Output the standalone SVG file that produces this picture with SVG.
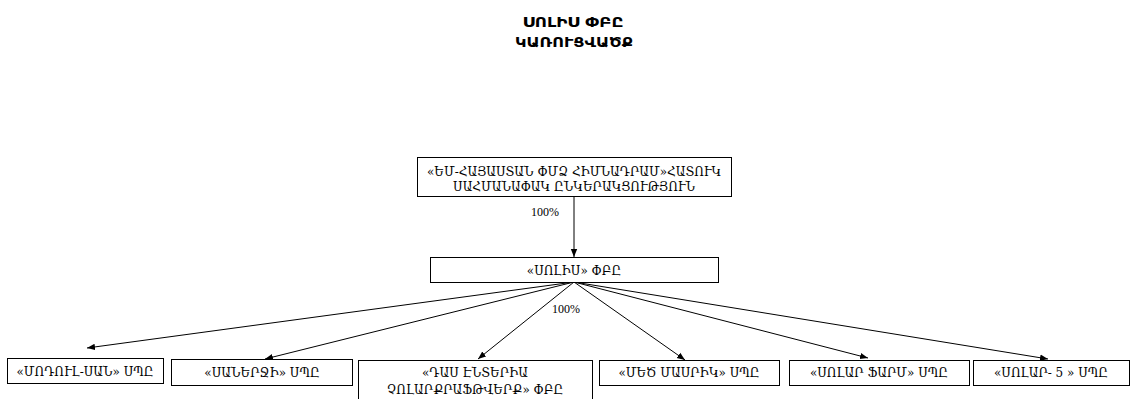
<svg xmlns="http://www.w3.org/2000/svg" width="1131" height="399" viewBox="0 0 1131 399">
<style>
.box{fill:#fff;stroke:#000;stroke-width:1}
.t{font-family:"DejaVu Serif","Liberation Serif","Noto Sans",serif;font-size:12px;fill:#000;text-anchor:middle}
.title{font-family:"DejaVu Sans","Noto Sans",sans-serif;font-size:14.5px;font-weight:bold;fill:#000;text-anchor:middle}
.lbl{font-family:"Liberation Serif",serif;font-size:12px;fill:#000;text-anchor:middle}
.c{stroke:#000;stroke-width:1;fill:none;marker-end:url(#ah)}
</style>
<defs>
<marker id="ah" viewBox="0 0 10 10" refX="10" refY="5" markerWidth="8" markerHeight="8" markerUnits="userSpaceOnUse" orient="auto">
<path d="M0,1 L10,5 L0,9 z" fill="#000"/>
</marker>
</defs>
<rect width="1131" height="399" fill="#fff"/>
<g id="title">
<text class="title" x="573" y="27" textLength="101" lengthAdjust="spacingAndGlyphs">ՍՈԼԻՍ ՓԲԸ</text>
<text class="title" x="574" y="47" textLength="118" lengthAdjust="spacingAndGlyphs">ԿԱՌՈՒՑՎԱԾՔ</text>
</g>
<g id="connectors">
<line class="c" x1="574" y1="196" x2="574" y2="257"/>
<line class="c" x1="574" y1="282" x2="87" y2="348"/>
<line class="c" x1="574" y1="282" x2="265" y2="359"/>
<line class="c" x1="574" y1="282" x2="478" y2="359"/>
<line class="c" x1="574" y1="282" x2="685" y2="360"/>
<line class="c" x1="574" y1="282" x2="868" y2="358"/>
<line class="c" x1="574" y1="282" x2="1048" y2="359"/>
<text class="lbl" x="545" y="216">100%</text>
<text class="lbl" x="566" y="313">100%</text>
</g>
<g id="n-eu">
<rect class="box" x="417.5" y="157.5" width="314" height="39"/>
<text class="t" x="574" y="176">«ԵՄ-ՀԱՅԱՍՏԱՆ ՓՄՁ ՀԻՄՆԱԴՐԱՄ»ՀԱՏՈՒԿ</text>
<text class="t" x="574" y="191">ՍԱՀՄԱՆԱՓԱԿ ԸՆԿԵՐԱԿՑՈՒԹՅՈՒՆ</text>
</g>
<g id="n-solis">
<rect class="box" x="430.5" y="257.5" width="288" height="25"/>
<text class="t" x="574" y="275">«ՍՈԼԻՍ» ՓԲԸ</text>
</g>
<g id="n-modul">
<rect class="box" x="7.5" y="358.5" width="156" height="25"/>
<text class="t" x="85" y="376">«ՄՈԴՈՒԼ-ՍԱՆ» ՍՊԸ</text>
</g>
<g id="n-sanerji">
<rect class="box" x="171.5" y="359.5" width="181" height="26"/>
<text class="t" x="262" y="377">«ՍԱՆԵՐՋԻ» ՍՊԸ</text>
</g>
<g id="n-das">
<rect class="box" x="358.5" y="360.5" width="234" height="45"/>
<text class="t" x="475" y="377">«ԴԱՍ ԷՆՏԵՐԻԱ</text>
<text class="t" x="475" y="394">ՉՈԼԱՐՔՐԱՖԹՎԵՐՔ» ՓԲԸ</text>
</g>
<g id="n-mets">
<rect class="box" x="599.5" y="360.5" width="180" height="25"/>
<text class="t" x="689" y="377">«ՄԵԾ ՄԱՍՐԻԿ» ՍՊԸ</text>
</g>
<g id="n-solarfarm">
<rect class="box" x="789.5" y="360.5" width="180" height="25"/>
<text class="t" x="879" y="377">«ՍՈԼԱՐ ՖԱՐՄ» ՍՊԸ</text>
</g>
<g id="n-solar5">
<rect class="box" x="973.5" y="360.5" width="156" height="25"/>
<text class="t" x="1051" y="377">«ՍՈԼԱՐ- 5 » ՍՊԸ</text>
</g>
</svg>
